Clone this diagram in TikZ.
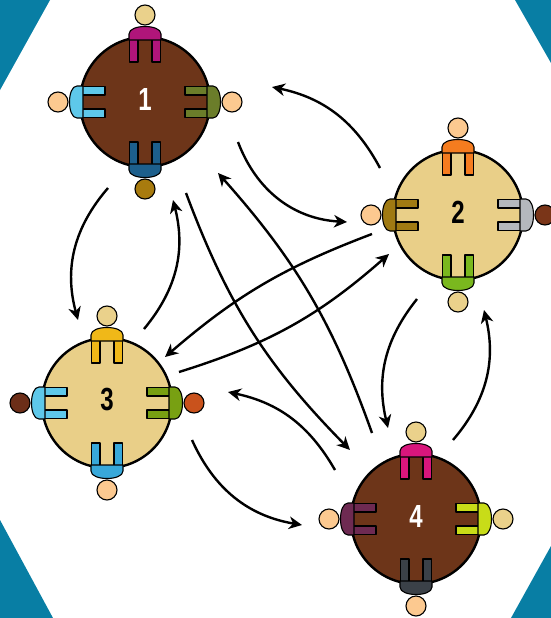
\documentclass[tikz,border=0pt]{standalone}
\usepackage{fontspec}
\newfontfamily\numfont{Liberation Sans}
\usetikzlibrary{arrows.meta}

% palette
\definecolor{cornerblue}{RGB}{8,126,164}
\definecolor{woodbrown}{RGB}{109,53,25}
\definecolor{woodtan}{RGB}{233,207,136}
\definecolor{skinpeach}{RGB}{252,201,144}
\definecolor{skintan}{RGB}{234,209,139}
\definecolor{skingold}{RGB}{168,123,14}
\definecolor{skinbrown}{RGB}{122,53,24}
\definecolor{skindark}{RGB}{108,46,24}
\definecolor{skinrust}{RGB}{201,82,28}
\definecolor{cmagenta}{RGB}{176,21,122}
\definecolor{ccyan}{RGB}{94,200,234}
\definecolor{colive}{RGB}{107,125,42}
\definecolor{cnavy}{RGB}{29,95,140}
\definecolor{corange}{RGB}{245,124,31}
\definecolor{cochre}{RGB}{160,122,18}
\definecolor{cgrey}{RGB}{180,184,189}
\definecolor{cgreen}{RGB}{122,184,30}
\definecolor{cgold}{RGB}{240,184,24}
\definecolor{cleaf}{RGB}{120,160,18}
\definecolor{cblue}{RGB}{56,168,218}
\definecolor{cpink}{RGB}{216,22,124}
\definecolor{cplum}{RGB}{110,42,82}
\definecolor{clime}{RGB}{200,220,24}
\definecolor{cslate}{RGB}{59,65,72}

\begin{document}
\begin{tikzpicture}[x=1pt,y=-1pt,
  roundtable/.style={circle, draw=black, line width=2.4pt, minimum size=130pt, inner sep=0pt},
  tablenum/.style={font=\numfont\bfseries\fontsize{32}{32}\selectfont, inner sep=0pt},
  bow/.style={bend right=#1},
  flow/.style={line width=2.4pt, -{Stealth[length=13pt,width=12.5pt,inset=4pt]}},
  outline/.style={draw=black, line width=1.1pt, line join=round},
  pics/seat/.style n args={2}{code={
    % two arm rails reaching under the table top
    \path[outline, fill=#1] (-15.5,-63) rectangle (-7,-40);
    \path[outline, fill=#1] (7,-63) rectangle (15.5,-40);
    % rounded backrest
    \path[outline, fill=#1] (-16,-62) -- (-16,-68)
      .. controls (-16,-78) and (16,-78) .. (16,-68) -- (16,-62) -- cycle;
    % the sitter's head
    \path[outline, fill=#2] (0,-87) circle[radius=10pt];
  }}
]
\useasboundingbox (0,0) rectangle (551,618);
\clip (0,0) rectangle (551,618);
\fill[white] (0,0) rectangle (551,618);

% blue corners
\fill[cornerblue] (0,0) -- (50,0) -- (0,90) -- cycle;
\fill[cornerblue] (515,0) -- (551,0) -- (551,63) -- cycle;
\fill[cornerblue] (0,520) -- (53,618) -- (0,618) -- cycle;
\fill[cornerblue] (551,546) -- (511,618) -- (551,618) -- cycle;

% arrow end points
\coordinate (a1) at (380,168); \coordinate (a2) at (272,87);
\coordinate (b1) at (238,142); \coordinate (b2) at (347,222);
\coordinate (c1) at (108,188); \coordinate (c2) at (78,320);
\coordinate (d1) at (144,329); \coordinate (d2) at (173,200);
\coordinate (e1) at (372,433); \coordinate (e2) at (218,173);
\coordinate (f1) at (186,193); \coordinate (f2) at (350,450);
\coordinate (g1) at (372,234); \coordinate (g2) at (165,357);
\coordinate (h1) at (179,372); \coordinate (h2) at (389,254);
\coordinate (k1) at (417,299); \coordinate (k2) at (388,428);
\coordinate (l1) at (453,440); \coordinate (l2) at (484,310);
\coordinate (i1) at (335,470); \coordinate (i2) at (228,392);
\coordinate (j1) at (192,440); \coordinate (j2) at (302,525);

\draw[flow] (a1) to[bow=25] (a2);
\draw[flow] (b1) to[bow=33] (b2);
\draw[flow] (c1) to[bow=28] (c2);
\draw[flow] (d1) to[bow=27] (d2);
\draw[flow] (e1) to[bow=11] (e2);
\draw[flow] (f1) to[bow=12] (f2);
\draw[flow] (g1) to[bow=10] (g2);
\draw[flow] (h1) to[bow=12] (h2);
\draw[flow] (k1) to[bow=26] (k2);
\draw[flow] (l1) to[bow=27] (l2);
\draw[flow] (i1) to[bow=24] (i2);
\draw[flow] (j1) to[bow=28] (j2);

% tables
\node[roundtable, fill=woodbrown] (t1) at (145,102) {};
\node[roundtable, fill=woodtan]   (t2) at (458,215) {};
\node[roundtable, fill=woodtan]   (t3) at (107,403) {};
\node[roundtable, fill=woodbrown] (t4) at (416,519) {};

% chairs and sitters, table 1
\pic at (t1.center) {seat={cmagenta}{skintan}};
\pic[rotate=90] at (t1.center) {seat={ccyan}{skinpeach}};
\pic[rotate=-90] at (t1.center) {seat={colive}{skinpeach}};
\pic[rotate=180] at (t1.center) {seat={cnavy}{skingold}};
% table 2
\pic at (t2.center) {seat={corange}{skinpeach}};
\pic[rotate=90] at (t2.center) {seat={cochre}{skinpeach}};
\pic[rotate=-90] at (t2.center) {seat={cgrey}{skinbrown}};
\pic[rotate=180] at (t2.center) {seat={cgreen}{skintan}};
% table 3
\pic at (t3.center) {seat={cgold}{skintan}};
\pic[rotate=90] at (t3.center) {seat={ccyan}{skindark}};
\pic[rotate=-90] at (t3.center) {seat={cleaf}{skinrust}};
\pic[rotate=180] at (t3.center) {seat={cblue}{skinpeach}};
% table 4
\pic at (t4.center) {seat={cpink}{skintan}};
\pic[rotate=90] at (t4.center) {seat={cplum}{skinpeach}};
\pic[rotate=-90] at (t4.center) {seat={clime}{skintan}};
\pic[rotate=180] at (t4.center) {seat={cslate}{skinpeach}};

% table numbers
\node[tablenum, text=white] (n1) at (145,99)  {\scalebox{0.75}[1]{1}};
\node[tablenum, text=black] (n2) at (458,212) {\scalebox{0.75}[1]{2}};
\node[tablenum, text=black] (n3) at (107,400) {\scalebox{0.75}[1]{3}};
\node[tablenum, text=white] (n4) at (416,516) {\scalebox{0.75}[1]{4}};
\end{tikzpicture}
\end{document}
